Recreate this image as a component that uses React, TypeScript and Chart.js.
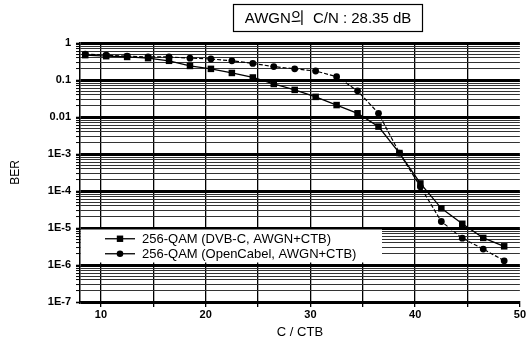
import React, { useEffect, useRef } from 'react';
import { Chart, registerables } from 'chart.js';

Chart.register(...registerables);

// C/CTB (dB)
const cnValues = [8.5, 10.5, 12.5, 14.5, 16.5, 18.5, 20.5, 22.5, 24.5, 26.5, 28.5, 30.5, 32.5, 34.5, 36.5, 38.5, 40.5, 42.5, 44.5, 46.5, 48.5];
// 256-QAM (DVB-C, AWGN+CTB)
const berDvbC = [0.47, 0.44, 0.42, 0.39, 0.33, 0.24, 0.2, 0.155, 0.117, 0.078, 0.054, 0.035, 0.021, 0.0126, 0.0055, 0.00106, 1.6e-4, 3.4e-5, 1.3e-5, 5.4e-6, 3.2e-6];
// 256-QAM (OpenCabel, AWGN+CTB)
const berOpenCable = [0.5, 0.47, 0.44, 0.42, 0.42, 0.39, 0.37, 0.33, 0.28, 0.23, 0.2, 0.175, 0.123, 0.051, 0.0126, 0.00106, 1.3e-4, 1.5e-5, 5.3e-6, 2.7e-6, 1.3e-6];

const seriesLabels = ['256-QAM (DVB-C, AWGN+CTB)', '256-QAM (OpenCabel, AWGN+CTB)'];
const yTickLabels = ['1E-7', '1E-6', '1E-5', '1E-4', '1E-3', '0.01', '0.1', '1'];
const yExponents = [-7, -6, -5, -4, -3, -2, -1, 0];
const xTickValues = [10, 15, 20, 25, 30, 35, 40, 45, 50];
const xLabelValues = [10, 20, 30, 40, 50];
const titleText = 'AWGN의  C/N : 28.35 dB';

const FONT = '"Liberation Sans", Arial, "Noto Sans CJK KR", sans-serif';

const isDecade = (v: number) => {
  const e = Math.log10(v);
  return Math.abs(e - Math.round(e)) < 1e-6;
};

const overlayPlugin = {
  id: 'overlay',
  beforeDatasetsDraw(chart: any) {
    const { ctx, chartArea, scales } = chart;
    const y = scales.y;
    const top = y.getPixelForValue(1e-5) + 1.5;
    const bottom = y.getPixelForValue(1e-6) - 2.5;
    const left = chartArea.left + 1;
    const width = 301;
    ctx.save();
    ctx.fillStyle = '#fff';
    ctx.fillRect(left, top, width, bottom - top);
    const rowH = (bottom - top) / 2;
    const styles = ['rect', 'circle'];
    seriesLabels.forEach((label, i) => {
      const cy = top + rowH * (i + 0.5) + (i === 0 ? 1 : -0.5);
      ctx.strokeStyle = '#000';
      ctx.lineWidth = 1.3;
      ctx.beginPath();
      ctx.moveTo(left + 24, cy);
      ctx.lineTo(left + 54, cy);
      ctx.stroke();
      ctx.fillStyle = '#000';
      if (styles[i] === 'rect') {
        ctx.fillRect(left + 39 - 3.2, cy - 3.2, 6.4, 6.4);
      } else {
        ctx.beginPath();
        ctx.arc(left + 39, cy, 3.3, 0, Math.PI * 2);
        ctx.fill();
      }
      ctx.font = '13px ' + FONT;
      ctx.textBaseline = 'middle';
      ctx.textAlign = 'left';
      ctx.fillText(label, left + 61, cy + 0.5);
    });
    ctx.restore();
  },
  afterDraw(chart: any) {
    const { ctx } = chart;
    ctx.save();
    ctx.strokeStyle = '#000';
    ctx.lineWidth = 1.2;
    ctx.fillStyle = '#fff';
    ctx.fillRect(233.5, 4.5, 189, 27);
    ctx.strokeRect(233.5, 4.5, 189, 27);
    ctx.fillStyle = '#000';
    ctx.font = '15px ' + FONT;
    ctx.textAlign = 'center';
    ctx.textBaseline = 'middle';
    ctx.fillText(titleText, 328, 19);
    ctx.restore();
  },
};

export default function App() {
  const canvasRef = useRef<HTMLCanvasElement | null>(null);

  useEffect(() => {
    document.body.style.margin = '0';
    const canvas = canvasRef.current;
    if (!canvas) return;
    Chart.defaults.font.family = FONT;
    Chart.defaults.color = '#000';

    const chart = new Chart(canvas, {
      type: 'line',
      data: {
        datasets: [
          {
            label: seriesLabels[0],
            data: cnValues.map((x, i) => ({ x, y: berDvbC[i] })),
            borderColor: '#000',
            backgroundColor: '#000',
            borderWidth: 1.3,
            pointStyle: 'rect',
            pointRadius: 4.6,
            pointBorderWidth: 0,
            tension: 0,
          },
          {
            label: seriesLabels[1],
            data: cnValues.map((x, i) => ({ x, y: berOpenCable[i] })),
            borderColor: '#000',
            backgroundColor: '#000',
            borderWidth: 1.2,
            borderDash: [4, 2],
            pointStyle: 'circle',
            pointRadius: 3.4,
            pointBorderWidth: 0,
            tension: 0,
          },
        ],
      },
      options: {
        animation: false,
        responsive: true,
        maintainAspectRatio: false,
        layout: { padding: { top: 43, right: 7, left: 0, bottom: 0 } },
        plugins: {
          legend: { display: false },
          tooltip: { enabled: false },
          title: { display: false },
        },
        scales: {
          x: {
            type: 'linear',
            min: 8,
            max: 50,
            afterBuildTicks: (scale: any) => {
              scale.ticks = xTickValues.map((v) => ({ value: v }));
            },
            afterFit: (scale: any) => {
              scale.height = 42;
            },
            ticks: {
              autoSkip: false,
              maxRotation: 0,
              padding: 1,
              font: { size: 11, weight: 'bold' },
              color: '#000',
              callback: (v: any) => (xLabelValues.includes(Number(v)) ? String(v) : ''),
            },
            grid: {
              color: (c: any) => (c.tick && c.tick.value === 50 ? 'rgba(0,0,0,0)' : '#000'),
              lineWidth: 1.3,
              tickLength: 5,
              tickColor: '#000',
              tickWidth: 1.3,
            },
            border: { color: '#000', width: 1.5 },
            title: {
              display: true,
              text: 'C / CTB',
              font: { size: 13 },
              color: '#000',
              padding: { top: 0, bottom: 4 },
            },
          },
          y: {
            type: 'logarithmic',
            min: 1e-7,
            max: 1,
            afterBuildTicks: (scale: any) => {
              const ticks: any[] = [];
              yExponents.forEach((e) => {
                ticks.push({ value: Math.pow(10, e) });
                if (e < 0) {
                  for (let m = 2; m <= 9; m++) ticks.push({ value: m * Math.pow(10, e) });
                }
              });
              ticks.sort((a, b) => a.value - b.value);
              scale.ticks = ticks;
            },
            afterFit: (scale: any) => {
              scale.width = 80;
            },
            ticks: {
              autoSkip: false,
              padding: 5,
              font: { size: 11, weight: 'bold' },
              color: '#000',
              callback: (v: any) => {
                const val = Number(v);
                if (!isDecade(val)) return '';
                const e = Math.round(Math.log10(val));
                const idx = yExponents.indexOf(e);
                return idx >= 0 ? yTickLabels[idx] : '';
              },
            },
            grid: {
              color: (c: any) => (c.tick && isDecade(c.tick.value) ? '#000' : '#333'),
              lineWidth: (c: any) => (c.tick && isDecade(c.tick.value) ? 3 : 1.1),
              tickLength: 4,
              tickColor: '#000',
              tickWidth: (c: any) => (c.tick && isDecade(c.tick.value) ? 1.6 : 1),
            },
            border: { color: '#000', width: 1.5 },
            title: {
              display: true,
              text: 'BER',
              font: { size: 12 },
              color: '#000',
              padding: { top: 8, bottom: 0 },
            },
          },
        },
      },
      plugins: [overlayPlugin],
    } as any);

    return () => chart.destroy();
  }, []);

  return (
    <div style={{ position: 'fixed', left: 0, top: 0, width: 527, height: 344, background: '#fff' }}>
      <canvas ref={canvasRef} />
    </div>
  );
}
